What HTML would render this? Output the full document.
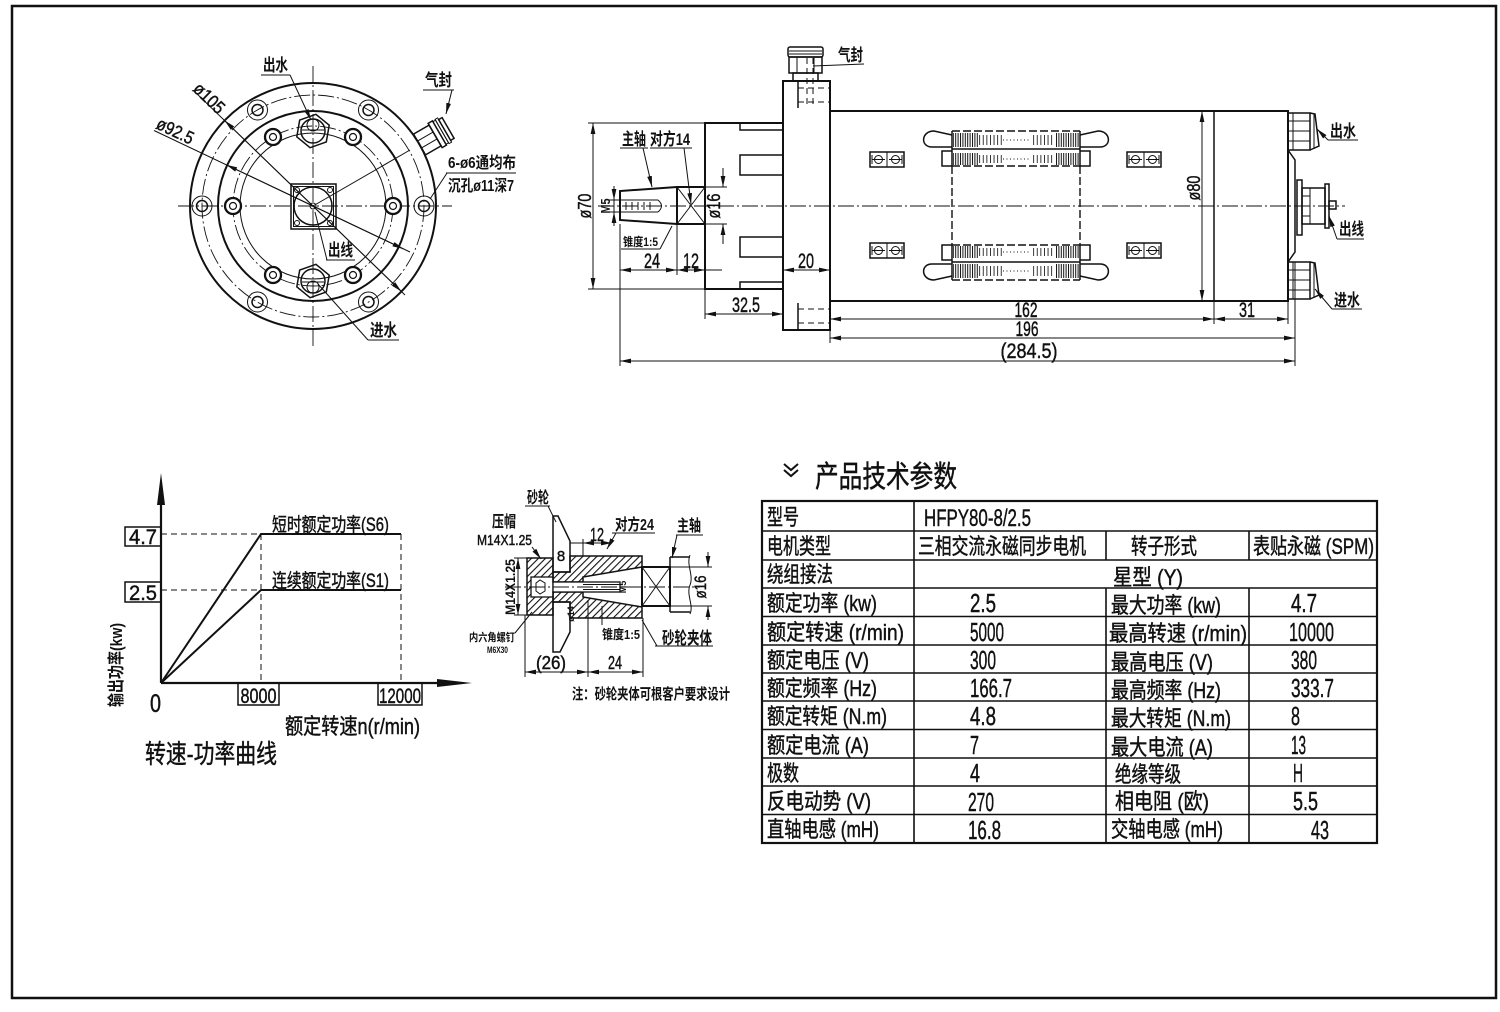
<!DOCTYPE html>
<html><head><meta charset="utf-8"><title>HFPY80-8/2.5</title>
<style>
html,body{margin:0;padding:0;background:#fff;width:1500px;height:1012px;overflow:hidden}
svg{display:block}
text{font-family:"Liberation Sans","Noto Sans CJK SC",sans-serif;fill:#111}
.b{font-weight:700}
.w{stroke:#111;stroke-width:0.45}
.k{stroke:#111;fill:none;stroke-width:2}
.m{stroke:#111;fill:none;stroke-width:1.5}
.t{stroke:#111;fill:none;stroke-width:1}
.c{stroke:#111;fill:none;stroke-width:0.9;stroke-dasharray:16 3 2 3}
.d{stroke:#111;fill:none;stroke-width:1.4;stroke-dasharray:8 3}
.g{stroke:#111;fill:none;stroke-width:1;stroke-dasharray:6 4}
</style></head><body>
<svg width="1500" height="1012" viewBox="0 0 1500 1012" xmlns="http://www.w3.org/2000/svg">
<defs>
<marker id="a" viewBox="0 0 12 6" refX="12" refY="3" markerWidth="11" markerHeight="5.5" orient="auto-start-reverse" markerUnits="userSpaceOnUse"><path d="M0,0.4L12,3L0,5.6z" fill="#111"/></marker>
<pattern id="h" width="5" height="5" patternUnits="userSpaceOnUse" patternTransform="rotate(45)"><rect x="0" y="0" width="1.1" height="5" fill="#111"/></pattern>
<pattern id="v2" width="2.4" height="10" patternUnits="userSpaceOnUse"><rect width="1" height="10" fill="#111"/></pattern>
<pattern id="v4" width="3.6" height="10" patternUnits="userSpaceOnUse"><rect width="0.9" height="10" fill="#222"/></pattern>
</defs>
<rect x="0" y="0" width="1500" height="1012" fill="#fff"/>
<rect x="12" y="6" width="1484" height="992" fill="none" stroke="#111" stroke-width="2.5"/>

<!-- ================= FRONT VIEW ================= -->
<circle class="k" cx="313" cy="206" r="123"/>
<circle class="c" cx="313" cy="206" r="111"/>
<circle class="k" cx="313" cy="206" r="95"/>
<circle class="c" cx="313" cy="206" r="80"/>
<circle class="t" cx="313" cy="206" r="73"/>
<line class="c" x1="178" y1="206" x2="452" y2="206"/>
<line class="c" x1="313" y1="66" x2="313" y2="346"/>
<g>
<circle class="t" cx="424" cy="206" r="10"/><circle class="m" cx="424" cy="206" r="5.5"/>
<circle class="t" cx="202" cy="206" r="10"/><circle class="m" cx="202" cy="206" r="5.5"/>
<circle class="t" cx="368.5" cy="110" r="10"/><circle class="m" cx="368.5" cy="110" r="5.5"/>
<circle class="t" cx="257.5" cy="110" r="10"/><circle class="m" cx="257.5" cy="110" r="5.5"/>
<circle class="t" cx="368.5" cy="302" r="10"/><circle class="m" cx="368.5" cy="302" r="5.5"/>
<circle class="t" cx="257.5" cy="302" r="10"/><circle class="m" cx="257.5" cy="302" r="5.5"/>
</g>
<g fill="#fff" stroke="#111">
<circle cx="393" cy="206" r="8" stroke-width="2.3"/><circle cx="393" cy="206" r="3.5" stroke-width="1.2"/>
<circle cx="233" cy="206" r="8" stroke-width="2.3"/><circle cx="233" cy="206" r="3.5" stroke-width="1.2"/>
<circle cx="353" cy="137" r="8" stroke-width="2.3"/><circle cx="353" cy="137" r="3.5" stroke-width="1.2"/>
<circle cx="273" cy="137" r="8" stroke-width="2.3"/><circle cx="273" cy="137" r="3.5" stroke-width="1.2"/>
<circle cx="353" cy="275" r="8" stroke-width="2.3"/><circle cx="353" cy="275" r="3.5" stroke-width="1.2"/>
<circle cx="273" cy="275" r="8" stroke-width="2.3"/><circle cx="273" cy="275" r="3.5" stroke-width="1.2"/>
</g>
<g transform="translate(313,131)">
<polygon class="m" fill="#fff" points="2.9,-16.7 16.2,-5.8 13.3,10.9 -2.9,16.7 -16.2,5.8 -13.3,-10.9"/>
<circle class="m" r="12"/><circle class="t" cx="0" cy="-6" r="6"/><line class="t" x1="-11" y1="-1" x2="11" y2="-1"/>
</g>
<g transform="translate(313,281)">
<polygon class="m" fill="#fff" points="2.9,-16.7 16.2,-5.8 13.3,10.9 -2.9,16.7 -16.2,5.8 -13.3,-10.9"/>
<circle class="m" r="12"/><circle class="t" cx="0" cy="6" r="6"/><line class="t" x1="-11" y1="1" x2="11" y2="1"/>
</g>
<rect class="m" x="291" y="184" width="45" height="45"/>
<rect class="t" x="293.5" y="186.5" width="40" height="40"/>
<circle class="m" cx="313" cy="206" r="19"/>
<circle class="t" cx="297" cy="190" r="2.5"/><circle class="t" cx="330" cy="190" r="2.5"/>
<circle class="t" cx="297" cy="223" r="2.5"/><circle class="t" cx="330" cy="223" r="2.5"/>
<circle class="t" cx="313" cy="206" r="3"/>
<g transform="translate(313,206) rotate(-30)">
<rect class="m" x="123" y="-12" width="18" height="24" fill="#fff"/>
<path class="t" d="M123,-4H141M123,4H141"/>
<rect class="m" x="141" y="-14" width="5" height="28" fill="#fff"/>
<rect class="t" x="146" y="-13" width="3" height="26"/>
<rect class="t" x="149" y="-14" width="3" height="28"/>
<rect class="m" x="152" y="-12" width="4" height="24"/>
</g>
<line class="t" x1="313" y1="206" x2="410" y2="150"/>
<line class="t" x1="194" y1="91" x2="405" y2="295"/>
<line class="t" x1="313" y1="206" x2="224.6" y2="120.5" marker-end="url(#a)"/>
<line class="t" x1="313" y1="206" x2="401.4" y2="291.5" marker-end="url(#a)"/>
<line class="t" x1="154" y1="130.5" x2="410" y2="252"/>
<line class="t" x1="313" y1="206" x2="226.3" y2="164.8" marker-end="url(#a)"/>
<line class="t" x1="313" y1="206" x2="403.3" y2="248.9" marker-end="url(#a)"/>
<text class="w" transform="translate(192,90) rotate(44)" font-size="18" textLength="36" lengthAdjust="spacingAndGlyphs">ø105</text>
<text class="w" transform="translate(155,128) rotate(25.4)" font-size="18" textLength="39" lengthAdjust="spacingAndGlyphs">ø92.5</text>
<text class="b" x="263" y="71" font-size="17" textLength="25" lengthAdjust="spacingAndGlyphs">出水</text>
<line class="t" x1="261" y1="75" x2="290" y2="75"/>
<line class="t" x1="290" y1="75" x2="311" y2="120" marker-end="url(#a)"/>
<text class="b" x="425" y="86" font-size="17" textLength="27" lengthAdjust="spacingAndGlyphs">气封</text>
<line class="t" x1="423" y1="90" x2="454" y2="90"/>
<line class="t" x1="452" y1="90" x2="446" y2="114" marker-end="url(#a)"/>
<text class="b" x="448" y="168" font-size="16" textLength="68" lengthAdjust="spacingAndGlyphs">6-ø6通均布</text>
<text class="b" x="448" y="191" font-size="16" textLength="66" lengthAdjust="spacingAndGlyphs">沉孔ø11深7</text>
<line class="t" x1="446" y1="173" x2="516" y2="173"/>
<line class="t" x1="447" y1="173" x2="430" y2="199"/>
<text class="b" x="328" y="256" font-size="17" textLength="25" lengthAdjust="spacingAndGlyphs">出线</text>
<line class="t" x1="326" y1="260" x2="355" y2="260"/>
<line class="t" x1="315" y1="212" x2="327" y2="260"/>
<text class="b" x="370" y="336" font-size="17" textLength="27" lengthAdjust="spacingAndGlyphs">进水</text>
<line class="t" x1="368" y1="340" x2="399" y2="340"/>
<line class="t" x1="318" y1="284" x2="368" y2="340"/>

<!-- ================= SIDE VIEW ================= -->
<rect class="k" x="705" y="123" width="78" height="166"/>
<rect class="m" x="740" y="123" width="43" height="7"/>
<rect class="m" x="740" y="155" width="43" height="20"/>
<rect class="m" x="740" y="237" width="43" height="20"/>
<rect class="m" x="740" y="282" width="43" height="7"/>
<rect class="k" x="783" y="81" width="47" height="249"/>
<path class="m" d="M798,82V108M798,303V329"/>
<path class="g" d="M798,88H830M798,102H830M798,309H830M798,323H830"/>
<path class="g" d="M807,58V108M813,58V108"/>
<rect class="m" x="788" y="47" width="35" height="10" rx="2"/>
<path class="t" d="M789,51H822M789,54H822"/>
<rect class="m" x="789" y="57" width="33" height="16"/>
<path class="t" d="M797,57V73M814,57V73"/>
<rect class="m" x="793" y="73" width="25" height="8"/>
<line class="t" x1="813" y1="66" x2="864" y2="64"/>
<text class="b" x="838" y="61" font-size="17" textLength="25" lengthAdjust="spacingAndGlyphs">气封</text>
<rect class="k" x="677" y="187" width="28" height="37"/>
<path class="t" d="M677,187L705,224M705,187L677,224"/>
<path class="k" d="M677,187L620,191L620,220L677,224"/>
<path class="t" d="M620,200H658M620,212H658M658,200Q665,206 658,212"/>
<path class="t" d="M626,202V210M632,202V210M638,202V210M644,202V210M650,202V210"/>
<rect class="k" x="830" y="111" width="458" height="190"/>
<line class="m" x1="1214" y1="111" x2="1214" y2="301"/>
<path class="m" d="M1288,150L1295,160V252L1288,262"/>
<g>
<path class="m" d="M952,135L934,131C921,131 920,147 932,147L952,147"/>
<path class="m" d="M1080,135L1098,131C1111,131 1112,147 1100,147L1080,147"/>
<rect x="953" y="133" width="25" height="14" fill="url(#v2)"/>
<rect x="1055" y="133" width="25" height="14" fill="url(#v2)"/>
<rect x="979" y="135" width="23" height="10" fill="url(#v4)"/>
<rect x="1031" y="135" width="23" height="10" fill="url(#v4)"/>
<line x1="1003" y1="140" x2="1031" y2="140" stroke="#111" stroke-width="1" stroke-dasharray="1 2.5"/>
<rect x="953" y="153" width="25" height="12" fill="url(#v2)"/>
<rect x="1055" y="153" width="25" height="12" fill="url(#v2)"/>
<rect x="979" y="155" width="23" height="8" fill="url(#v4)"/>
<rect x="1031" y="155" width="23" height="8" fill="url(#v4)"/>
<line x1="1003" y1="159" x2="1031" y2="159" stroke="#111" stroke-width="1" stroke-dasharray="1 2.5"/>
<line class="d" x1="952" y1="131" x2="1080" y2="131"/>
<line class="m" x1="952" y1="149" x2="1080" y2="149"/>
<path class="m" d="M952,151H942V166H952M1080,151H1090V166H1080"/>
<line class="d" x1="952" y1="166" x2="1080" y2="166"/>
<line class="m" x1="952" y1="131" x2="952" y2="166"/>
<line class="m" x1="1080" y1="131" x2="1080" y2="166"/>
</g>
<g transform="translate(0,411) scale(1,-1)">
<path class="m" d="M952,135L934,131C921,131 920,147 932,147L952,147"/>
<path class="m" d="M1080,135L1098,131C1111,131 1112,147 1100,147L1080,147"/>
<rect x="953" y="133" width="25" height="14" fill="url(#v2)"/>
<rect x="1055" y="133" width="25" height="14" fill="url(#v2)"/>
<rect x="979" y="135" width="23" height="10" fill="url(#v4)"/>
<rect x="1031" y="135" width="23" height="10" fill="url(#v4)"/>
<line x1="1003" y1="140" x2="1031" y2="140" stroke="#111" stroke-width="1" stroke-dasharray="1 2.5"/>
<rect x="953" y="153" width="25" height="12" fill="url(#v2)"/>
<rect x="1055" y="153" width="25" height="12" fill="url(#v2)"/>
<rect x="979" y="155" width="23" height="8" fill="url(#v4)"/>
<rect x="1031" y="155" width="23" height="8" fill="url(#v4)"/>
<line x1="1003" y1="159" x2="1031" y2="159" stroke="#111" stroke-width="1" stroke-dasharray="1 2.5"/>
<line class="d" x1="952" y1="131" x2="1080" y2="131"/>
<line class="m" x1="952" y1="149" x2="1080" y2="149"/>
<path class="m" d="M952,151H942V166H952M1080,151H1090V166H1080"/>
<line class="d" x1="952" y1="166" x2="1080" y2="166"/>
<line class="m" x1="952" y1="131" x2="952" y2="166"/>
<line class="m" x1="1080" y1="131" x2="1080" y2="166"/>
</g>
<path class="d" d="M952,166V245M1080,166V245"/>
<g transform="translate(870,152)"><rect class="m" width="34" height="15"/><line class="t" x1="17" y1="0" x2="17" y2="15"/><circle class="t" cx="8.5" cy="7.5" r="4"/><circle class="t" cx="25.5" cy="7.5" r="4"/><path class="t" d="M2,7.5H15M19,7.5H32M2,3V12M32,3V12"/></g>
<g transform="translate(1127,152)"><rect class="m" width="34" height="15"/><line class="t" x1="17" y1="0" x2="17" y2="15"/><circle class="t" cx="8.5" cy="7.5" r="4"/><circle class="t" cx="25.5" cy="7.5" r="4"/><path class="t" d="M2,7.5H15M19,7.5H32M2,3V12M32,3V12"/></g>
<g transform="translate(870,243)"><rect class="m" width="34" height="15"/><line class="t" x1="17" y1="0" x2="17" y2="15"/><circle class="t" cx="8.5" cy="7.5" r="4"/><circle class="t" cx="25.5" cy="7.5" r="4"/><path class="t" d="M2,7.5H15M19,7.5H32M2,3V12M32,3V12"/></g>
<g transform="translate(1127,243)"><rect class="m" width="34" height="15"/><line class="t" x1="17" y1="0" x2="17" y2="15"/><circle class="t" cx="8.5" cy="7.5" r="4"/><circle class="t" cx="25.5" cy="7.5" r="4"/><path class="t" d="M2,7.5H15M19,7.5H32M2,3V12M32,3V12"/></g>
<g>
<rect class="m" x="1288" y="113" width="22" height="37" fill="#fff"/>
<path class="t" d="M1288,121H1310M1288,131H1310M1288,141H1310M1293,113V150"/>
<path class="m" d="M1310,113L1315,114L1319,146L1310,150"/>
<line class="t" x1="1314" y1="114" x2="1314" y2="149"/>
</g>
<g transform="translate(0,149)">
<rect class="m" x="1288" y="113" width="22" height="37" fill="#fff"/>
<path class="t" d="M1288,121H1310M1288,131H1310M1288,141H1310M1293,113V150"/>
<path class="m" d="M1310,113L1315,114L1319,146L1310,150"/>
<line class="t" x1="1314" y1="114" x2="1314" y2="149"/>
</g>
<rect class="m" x="1297" y="180" width="5" height="55"/>
<rect class="m" x="1302" y="188" width="23" height="36"/>
<path class="t" d="M1302,196H1310V216H1302M1310,188V224"/>
<rect class="m" x="1325" y="184" width="4" height="44"/>
<rect class="m" x="1329" y="201" width="7" height="8"/>
<text class="b" x="1330" y="137" font-size="17" textLength="26" lengthAdjust="spacingAndGlyphs">出水</text>
<line class="t" x1="1328" y1="140" x2="1358" y2="140"/>
<line class="t" x1="1328" y1="140" x2="1317" y2="129" marker-end="url(#a)"/>
<text class="b" x="1339" y="235" font-size="17" textLength="25" lengthAdjust="spacingAndGlyphs">出线</text>
<line class="t" x1="1337" y1="239" x2="1364" y2="239"/>
<line class="t" x1="1337" y1="239" x2="1329" y2="216" marker-end="url(#a)"/>
<text class="b" x="1334" y="306" font-size="17" textLength="26" lengthAdjust="spacingAndGlyphs">进水</text>
<line class="t" x1="1332" y1="309" x2="1362" y2="309"/>
<line class="t" x1="1332" y1="309" x2="1315" y2="289" marker-end="url(#a)"/>
<text class="b" x="622" y="145" font-size="17" textLength="24" lengthAdjust="spacingAndGlyphs">主轴</text>
<line class="t" x1="620" y1="148" x2="648" y2="148"/>
<line class="t" x1="643" y1="148" x2="652" y2="187" marker-end="url(#a)"/>
<text class="b" x="650" y="145" font-size="17" textLength="40" lengthAdjust="spacingAndGlyphs">对方14</text>
<line class="t" x1="650" y1="148" x2="692" y2="148"/>
<line class="t" x1="684" y1="148" x2="691" y2="204" marker-end="url(#a)"/>
<text class="b" x="623" y="246" font-size="12" textLength="35" lengthAdjust="spacingAndGlyphs">锥度1:5</text>
<line class="t" x1="621" y1="249" x2="660" y2="249"/>
<line class="t" x1="660" y1="249" x2="672" y2="226"/>
<path class="t" d="M588,123H705M588,289H705"/>
<line class="t" x1="593" y1="123" x2="593" y2="289" marker-start="url(#a)" marker-end="url(#a)"/>
<text class="w" transform="translate(591,206) rotate(-90)" font-size="18" text-anchor="middle" textLength="25" lengthAdjust="spacingAndGlyphs">ø70</text>
<path class="t" d="M608,200H620M608,212H620"/>
<line class="t" x1="614" y1="186" x2="614" y2="200" marker-end="url(#a)"/>
<line class="t" x1="614" y1="226" x2="614" y2="212" marker-end="url(#a)"/>
<line class="t" x1="614" y1="200" x2="614" y2="212"/>
<text class="b" transform="translate(610,206) rotate(-90)" font-size="13" text-anchor="middle" textLength="15" lengthAdjust="spacingAndGlyphs">M5</text>
<path class="t" d="M705,187H727M705,224H727"/>
<line class="t" x1="723" y1="168" x2="723" y2="187" marker-end="url(#a)"/>
<line class="t" x1="723" y1="244" x2="723" y2="224" marker-end="url(#a)"/>
<text class="w" transform="translate(720,206) rotate(-90)" font-size="18" text-anchor="middle" textLength="25" lengthAdjust="spacingAndGlyphs">ø16</text>
<path class="t" d="M620,224V366M677,224V275M705,289V319M830,330V343M1214,301V324M1288,301V324M1295,262V366"/>
<line class="t" x1="620" y1="270" x2="677" y2="270" marker-start="url(#a)" marker-end="url(#a)"/>
<line class="t" x1="677" y1="270" x2="705" y2="270" marker-start="url(#a)" marker-end="url(#a)"/>
<line class="t" x1="705" y1="270" x2="722" y2="270"/>
<line class="t" x1="783" y1="270" x2="830" y2="270" marker-start="url(#a)" marker-end="url(#a)"/>
<line class="t" x1="705" y1="314" x2="783" y2="314" marker-start="url(#a)" marker-end="url(#a)"/>
<line class="t" x1="830" y1="319" x2="1214" y2="319" marker-start="url(#a)" marker-end="url(#a)"/>
<line class="t" x1="1214" y1="319" x2="1288" y2="319" marker-start="url(#a)" marker-end="url(#a)"/>
<line class="t" x1="830" y1="338" x2="1295" y2="338" marker-start="url(#a)" marker-end="url(#a)"/>
<line class="t" x1="620" y1="361" x2="1295" y2="361" marker-start="url(#a)" marker-end="url(#a)"/>
<line class="t" x1="1202" y1="111" x2="1202" y2="301" marker-start="url(#a)" marker-end="url(#a)"/>
<text class="w" transform="translate(1200,188) rotate(-90)" font-size="18" text-anchor="middle" textLength="25" lengthAdjust="spacingAndGlyphs">ø80</text>
<g font-size="21" text-anchor="middle" class="w">
<text x="652" y="268" textLength="16" lengthAdjust="spacingAndGlyphs">24</text>
<text x="691" y="268" textLength="16" lengthAdjust="spacingAndGlyphs">12</text>
<text x="806" y="268" textLength="16" lengthAdjust="spacingAndGlyphs">20</text>
<text x="746" y="312" textLength="28" lengthAdjust="spacingAndGlyphs">32.5</text>
<text x="1026" y="317" textLength="23" lengthAdjust="spacingAndGlyphs">162</text>
<text x="1247" y="317" textLength="16" lengthAdjust="spacingAndGlyphs">31</text>
<text x="1027" y="336" textLength="23" lengthAdjust="spacingAndGlyphs">196</text>
<text x="1029" y="358" textLength="57" lengthAdjust="spacingAndGlyphs">(284.5)</text>
</g>
<line class="c" x1="598" y1="206" x2="1345" y2="206"/>

<!-- ================= GRAPH ================= -->
<line x1="161" y1="683" x2="161" y2="502" stroke="#111" stroke-width="2.2"/>
<polygon points="161,473 157,505 165,505" fill="#111"/>
<line x1="161" y1="683" x2="440" y2="683" stroke="#111" stroke-width="2.2"/>
<polygon points="472,683 437,679 437,687" fill="#111"/>
<polyline class="k" points="161,683 261,534 401,534"/>
<polyline class="k" points="161,683 261,590 401,590"/>
<path class="g" d="M161,534H261M161,590H261M261,534V683M401,534V683"/>
<rect class="m" x="125" y="527" width="36" height="19"/>
<rect class="m" x="125" y="582" width="36" height="20"/>
<rect class="m" x="238" y="683" width="41" height="22"/>
<rect class="m" x="378" y="683" width="44" height="22"/>
<g font-size="21" text-anchor="middle" class="w">
<text x="143" y="544" textLength="28" lengthAdjust="spacingAndGlyphs">4.7</text>
<text x="143" y="600" textLength="28" lengthAdjust="spacingAndGlyphs">2.5</text>
<text x="258.5" y="703" textLength="36" lengthAdjust="spacingAndGlyphs">8000</text>
<text x="400" y="703" textLength="42" lengthAdjust="spacingAndGlyphs">12000</text>
</g>
<text class="w" x="150" y="712" font-size="25" textLength="11" lengthAdjust="spacingAndGlyphs">0</text>
<text class="w" x="272" y="531" font-size="19" textLength="117" lengthAdjust="spacingAndGlyphs">短时额定功率(S6)</text>
<text class="w" x="272" y="587" font-size="19" textLength="117" lengthAdjust="spacingAndGlyphs">连续额定功率(S1)</text>
<text class="w" x="285" y="734" font-size="22" textLength="135" lengthAdjust="spacingAndGlyphs">额定转速n(r/min)</text>
<text class="w" x="145" y="763" font-size="26" textLength="132" lengthAdjust="spacingAndGlyphs">转速-功率曲线</text>
<text class="b" transform="translate(122,707) rotate(-90)" font-size="17" textLength="84" lengthAdjust="spacingAndGlyphs">输出功率(kw)</text>

<!-- ================= CLAMP DETAIL ================= -->
<polygon class="m" points="553,516 558,516 570,541 570,572 553,572"/>
<polygon class="m" points="553,602 570,602 570,632 560,652 553,652"/>
<rect x="527" y="558" width="26" height="57" fill="url(#h)" stroke="#111" stroke-width="1.5"/>
<rect x="531" y="577" width="22" height="20" fill="#fff" stroke="#111" stroke-width="1.3"/>
<polygon class="t" points="536,583 540,580 545,583 545,591 540,594 536,591"/>
<polygon points="553,572 570,572 570,556 642,556 642,567 583,577 583,582 553,582" fill="url(#h)" stroke="#111" stroke-width="1.5"/>
<polygon points="553,602 570,602 570,618 642,618 642,607 583,597 583,592 553,592" fill="url(#h)" stroke="#111" stroke-width="1.5"/>
<rect x="553" y="582" width="67" height="10" fill="#fff" stroke="#111" stroke-width="1.3"/>
<path class="t" d="M583,584.5H620M583,589.5H620"/>
<text class="b" transform="translate(626,587) rotate(-90)" font-size="9" text-anchor="middle">M5</text>
<rect class="k" x="642" y="567" width="28" height="39"/>
<path class="t" d="M642,567L670,606M670,567L642,606"/>
<path class="m" d="M670,557H690M670,612H690M670,557V612"/>
<path class="t" d="M690,555C686,565 694,575 690,585C686,595 694,605 690,614"/>
<line class="c" x1="505" y1="587" x2="700" y2="587"/>
<path class="t" d="M670,567H712M670,606H712"/>
<line class="t" x1="708" y1="552" x2="708" y2="567" marker-end="url(#a)"/>
<line class="t" x1="708" y1="620" x2="708" y2="606" marker-end="url(#a)"/>
<text class="w" transform="translate(706,587) rotate(-90)" font-size="17" text-anchor="middle" textLength="23" lengthAdjust="spacingAndGlyphs">ø16</text>
<path class="t" d="M514,558H527M514,615H527"/>
<line class="t" x1="518" y1="558" x2="518" y2="615" marker-start="url(#a)" marker-end="url(#a)"/>
<text class="b" transform="translate(515,587) rotate(-90)" font-size="14" text-anchor="middle" textLength="56" lengthAdjust="spacingAndGlyphs">M14X1.25</text>
<path class="t" d="M525,615V677M588,600V677M643,618V677M583,539V556"/>
<line class="t" x1="525" y1="672" x2="588" y2="672" marker-start="url(#a)" marker-end="url(#a)"/>
<line class="t" x1="588" y1="672" x2="643" y2="672" marker-start="url(#a)" marker-end="url(#a)"/>
<line class="t" x1="583" y1="543" x2="612" y2="543" marker-start="url(#a)" marker-end="url(#a)"/>
<line class="t" x1="570" y1="543" x2="583" y2="543"/>
<g class="w" font-size="18" text-anchor="middle">
<text x="551" y="669" textLength="30" lengthAdjust="spacingAndGlyphs">(26)</text>
<text x="615" y="669" textLength="14" lengthAdjust="spacingAndGlyphs">24</text>
<text x="597" y="541" textLength="14" lengthAdjust="spacingAndGlyphs">12</text>
<text x="561" y="561" font-size="15">8</text>
</g>
<text class="b" transform="translate(574,614) rotate(-90)" font-size="9" text-anchor="middle">ø14</text>
<text class="b" x="527" y="503" font-size="16" textLength="22" lengthAdjust="spacingAndGlyphs">砂轮</text>
<line class="t" x1="525" y1="506" x2="550" y2="506"/>
<line class="t" x1="548" y1="506" x2="556" y2="522"/>
<text class="b" x="492" y="527" font-size="16" textLength="24" lengthAdjust="spacingAndGlyphs">压帽</text>
<text class="w" x="477" y="545" font-size="15" textLength="55" lengthAdjust="spacingAndGlyphs">M14X1.25</text>
<line class="t" x1="532" y1="547" x2="541" y2="559" marker-end="url(#a)"/>
<text class="b" x="615" y="530" font-size="16" textLength="39" lengthAdjust="spacingAndGlyphs">对方24</text>
<line class="t" x1="612" y1="533" x2="655" y2="533"/>
<line class="t" x1="616" y1="533" x2="607" y2="549" marker-end="url(#a)"/>
<text class="b" x="677" y="531" font-size="16" textLength="24" lengthAdjust="spacingAndGlyphs">主轴</text>
<line class="t" x1="676" y1="535" x2="703" y2="535"/>
<line class="t" x1="677" y1="535" x2="672" y2="558" marker-end="url(#a)"/>
<text class="b" x="469" y="641" font-size="11" textLength="46" lengthAdjust="spacingAndGlyphs">内六角螺钉</text>
<text class="b" x="487" y="653" font-size="9" textLength="21" lengthAdjust="spacingAndGlyphs">M6X30</text>
<line class="t" x1="515" y1="633" x2="532" y2="612"/>
<text class="b" x="602" y="639" font-size="13" textLength="38" lengthAdjust="spacingAndGlyphs">锥度1:5</text>
<line class="t" x1="602" y1="625" x2="602" y2="606"/>
<text class="b" x="662" y="644" font-size="17" textLength="50" lengthAdjust="spacingAndGlyphs">砂轮夹体</text>
<line class="t" x1="655" y1="646" x2="713" y2="646"/>
<line class="t" x1="657" y1="646" x2="642" y2="620"/>
<text class="b" x="572" y="699" font-size="15" textLength="158" lengthAdjust="spacingAndGlyphs">注：砂轮夹体可根客户要求设计</text>

<!-- ================= TABLE ================= -->
<path d="M784,464L791,470L798,464M784,470L791,476L798,470" fill="none" stroke="#111" stroke-width="2"/>
<text class="w" x="815" y="487" font-size="30" textLength="142" lengthAdjust="spacingAndGlyphs">产品技术参数</text>
<rect x="762" y="501" width="615" height="342" fill="none" stroke="#111" stroke-width="2.2"/>
<path stroke="#111" stroke-width="1.6" fill="none" d="M762,531H1377M762,560H1377M762,588H1377M762,616.5H1377M762,645H1377M762,673H1377M762,701H1377M762,729.5H1377M762,758H1377M762,786H1377M762,814.5H1377M914,501V843M1106,531V560M1106,588V843M1249,531V560M1249,588V843"/>
<g font-size="22" class="w">
<text x="767" y="525" textLength="32" lengthAdjust="spacingAndGlyphs">型号</text>
<text x="924" y="526" font-size="24" textLength="107" lengthAdjust="spacingAndGlyphs">HFPY80-8/2.5</text>
<text x="767" y="554" textLength="64" lengthAdjust="spacingAndGlyphs">电机类型</text>
<text x="918" y="554" textLength="168" lengthAdjust="spacingAndGlyphs">三相交流永磁同步电机</text>
<text x="1131" y="554" textLength="66" lengthAdjust="spacingAndGlyphs">转子形式</text>
<text x="1253" y="554" textLength="121" lengthAdjust="spacingAndGlyphs">表贴永磁 (SPM)</text>
<text x="767" y="582" textLength="66" lengthAdjust="spacingAndGlyphs">绕组接法</text>
<text x="1113" y="585" textLength="70" lengthAdjust="spacingAndGlyphs">星型 (Y)</text>
<text x="767" y="611" textLength="110" lengthAdjust="spacingAndGlyphs">额定功率 (kw)</text>
<text x="1111" y="613" textLength="110" lengthAdjust="spacingAndGlyphs">最大功率 (kw)</text>
<text x="767" y="640" textLength="137" lengthAdjust="spacingAndGlyphs">额定转速 (r/min)</text>
<text x="1109" y="641" textLength="138" lengthAdjust="spacingAndGlyphs">最高转速 (r/min)</text>
<text x="767" y="668" textLength="102" lengthAdjust="spacingAndGlyphs">额定电压 (V)</text>
<text x="1111" y="670" textLength="102" lengthAdjust="spacingAndGlyphs">最高电压 (V)</text>
<text x="767" y="696" textLength="110" lengthAdjust="spacingAndGlyphs">额定频率 (Hz)</text>
<text x="1111" y="698" textLength="110" lengthAdjust="spacingAndGlyphs">最高频率 (Hz)</text>
<text x="767" y="724" textLength="120" lengthAdjust="spacingAndGlyphs">额定转矩 (N.m)</text>
<text x="1111" y="726" textLength="120" lengthAdjust="spacingAndGlyphs">最大转矩 (N.m)</text>
<text x="767" y="753" textLength="102" lengthAdjust="spacingAndGlyphs">额定电流 (A)</text>
<text x="1111" y="755" textLength="102" lengthAdjust="spacingAndGlyphs">最大电流 (A)</text>
<text x="767" y="781" textLength="32" lengthAdjust="spacingAndGlyphs">极数</text>
<text x="1115" y="782" textLength="66" lengthAdjust="spacingAndGlyphs">绝缘等级</text>
<text x="767" y="809" textLength="104" lengthAdjust="spacingAndGlyphs">反电动势 (V)</text>
<text x="1115" y="809" textLength="94" lengthAdjust="spacingAndGlyphs">相电阻 (欧)</text>
<text x="767" y="837" textLength="112" lengthAdjust="spacingAndGlyphs">直轴电感 (mH)</text>
<text x="1111" y="837" textLength="112" lengthAdjust="spacingAndGlyphs">交轴电感 (mH)</text>
</g>
<g font-size="26" class="w">
<text x="970" y="612" textLength="26" lengthAdjust="spacingAndGlyphs">2.5</text>
<text x="1291" y="612" textLength="26" lengthAdjust="spacingAndGlyphs">4.7</text>
<text x="970" y="641" textLength="34" lengthAdjust="spacingAndGlyphs">5000</text>
<text x="1289" y="641" textLength="45" lengthAdjust="spacingAndGlyphs">10000</text>
<text x="970" y="669" textLength="26" lengthAdjust="spacingAndGlyphs">300</text>
<text x="1291" y="669" textLength="26" lengthAdjust="spacingAndGlyphs">380</text>
<text x="970" y="697" textLength="42" lengthAdjust="spacingAndGlyphs">166.7</text>
<text x="1291" y="697" textLength="43" lengthAdjust="spacingAndGlyphs">333.7</text>
<text x="970" y="725" textLength="26" lengthAdjust="spacingAndGlyphs">4.8</text>
<text x="1291" y="725" textLength="9" lengthAdjust="spacingAndGlyphs">8</text>
<text x="970" y="754" textLength="9" lengthAdjust="spacingAndGlyphs">7</text>
<text x="1291" y="754" textLength="15" lengthAdjust="spacingAndGlyphs">13</text>
<text x="970" y="782" textLength="10" lengthAdjust="spacingAndGlyphs">4</text>
<text x="1293" y="782" textLength="10" lengthAdjust="spacingAndGlyphs">H</text>
<text x="968" y="811" textLength="26" lengthAdjust="spacingAndGlyphs">270</text>
<text x="1293" y="810" textLength="25" lengthAdjust="spacingAndGlyphs">5.5</text>
<text x="968" y="839" textLength="33" lengthAdjust="spacingAndGlyphs">16.8</text>
<text x="1311" y="839" textLength="18" lengthAdjust="spacingAndGlyphs">43</text>
</g>
</svg>
</body></html>
